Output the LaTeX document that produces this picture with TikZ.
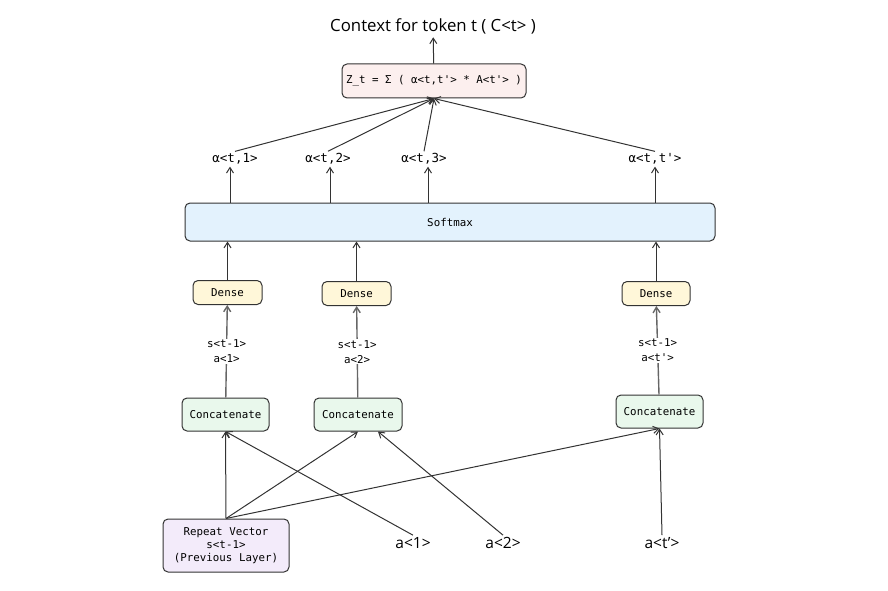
\documentclass[tikz,border=0pt]{standalone}
\usepackage{fontspec}
\setmainfont{Open Sans}
\setmonofont{DejaVu Sans Mono}
\usetikzlibrary{arrows.meta}
\definecolor{linecol}{HTML}{333333}
\definecolor{zfill}{HTML}{FCEFEE}
\definecolor{softfill}{HTML}{E3F2FD}
\definecolor{densefill}{HTML}{FFF7D9}
\definecolor{catfill}{HTML}{E9F8EC}
\definecolor{repfill}{HTML}{F3EBFA}
\tikzset{
  layerbox/.style={draw=linecol, line width=1pt, rounded corners=5pt, inner sep=0pt,
    font=\ttfamily\fontsize{10.8}{13}\selectfont, align=center},
  wlabel/.style={font=\ttfamily\fontsize{12.5}{14}\selectfont, inner sep=2pt},
  ilabel/.style={font=\fontsize{15.5}{17}\selectfont, inner sep=2pt},
  link/.style={draw=linecol, line width=1pt, -{Straight Barb[length=5.5pt,width=7pt]}},
  graylink/.style={draw=black!60, line width=1.4pt, -{Straight Barb[length=5.5pt,width=7pt]}}
}
\begin{document}
\begin{tikzpicture}[x=1pt,y=1pt]
\useasboundingbox (0,0) rectangle (888,-591);
% output
\node[font=\fontsize{16.8}{19}\selectfont] (title) at (433,-26) {Context for token t ( C<t> )};
\node[layerbox, fill=zfill, minimum width=184pt, minimum height=34pt] (zsum) at (434,-81) {Z\_t = Σ ( α<t,t'> * A<t'> )};
% attention weights
\node[wlabel] (w1) at (235,-159) {α<t,1>};
\node[wlabel] (w2) at (328,-159) {α<t,2>};
\node[wlabel] (w3) at (424,-159) {α<t,3>};
\node[wlabel] (wt) at (655,-159) {α<t,t'>};
\node[layerbox, fill=softfill, minimum width=530pt, minimum height=38pt] (softmax) at (450,-222) {Softmax};
% dense layers
\node[layerbox, fill=densefill, minimum width=69pt, minimum height=24pt] (dense1) at (227.5,-292.5) {Dense};
\node[layerbox, fill=densefill, minimum width=69pt, minimum height=24pt] (dense2) at (356.5,-293.5) {Dense};
\node[layerbox, fill=densefill, minimum width=68pt, minimum height=24pt] (dense3) at (656,-293.5) {Dense};
% concatenate layers
\node[layerbox, fill=catfill, minimum width=87pt, minimum height=33pt] (cat1) at (225.5,-414.5) {Concatenate};
\node[layerbox, fill=catfill, minimum width=88pt, minimum height=33pt] (cat2) at (358,-414.5) {Concatenate};
\node[layerbox, fill=catfill, minimum width=87pt, minimum height=33pt] (cat3) at (659.5,-411.5) {Concatenate};
% inputs
\node[layerbox, fill=repfill, minimum width=126pt, minimum height=53pt] (rep) at (226,-545.5) {Repeat Vector\\s<t-1>\\(Previous Layer)};
\node[ilabel] (in1) at (413,-543) {a<1>};
\node[ilabel] (in2) at (503,-543) {a<2>};
\node[ilabel] (int) at (662,-543) {a<t'>};
% connectors
\draw[link] (zsum) -- (title);
\draw[link] (w1.north) -- (zsum.south);
\draw[link] (w2.north) -- (zsum.south);
\draw[link] (w3.north) -- (zsum.south);
\draw[link] (wt.north) -- (zsum.south);
\draw[link] ([xshift=-5pt]softmax.north -| w1) -- ([xshift=-5pt]w1.south);
\draw[link] ([xshift=2pt]softmax.north -| w2) -- ([xshift=2pt]w2.south);
\draw[link] ([xshift=4pt]softmax.north -| w3) -- ([xshift=4pt]w3.south);
\draw[link] (softmax.north -| wt) -- (wt);
\draw[link] (dense1) -- (dense1 |- softmax.south);
\draw[link] (dense2) -- (dense2 |- softmax.south);
\draw[link] (dense3) -- (dense3 |- softmax.south);
\draw[graylink] (cat1) -- node[fill=white, font=\ttfamily\fontsize{10.8}{15}\selectfont, align=center, inner sep=1pt] {s<t-1>\\a<1>} (dense1);
\draw[graylink] (cat2) -- node[fill=white, font=\ttfamily\fontsize{10.8}{15}\selectfont, align=center, inner sep=1pt] {s<t-1>\\a<2>} (dense2);
\draw[graylink] (cat3) -- node[fill=white, font=\ttfamily\fontsize{10.8}{15}\selectfont, align=center, inner sep=1pt] {s<t-1>\\a<t'>} (dense3);
\draw[link] (rep.north) -- (cat1.south);
\draw[link] (rep.north) -- (cat2.south);
\draw[link] (rep.north) -- (cat3.south);
\draw[link] (in1.north) -- (cat1.south);
\draw[link] (in2.north) -- ([xshift=20pt]cat2.south);
\draw[link] (int.north) -- (cat3.south);
\end{tikzpicture}
\end{document}
